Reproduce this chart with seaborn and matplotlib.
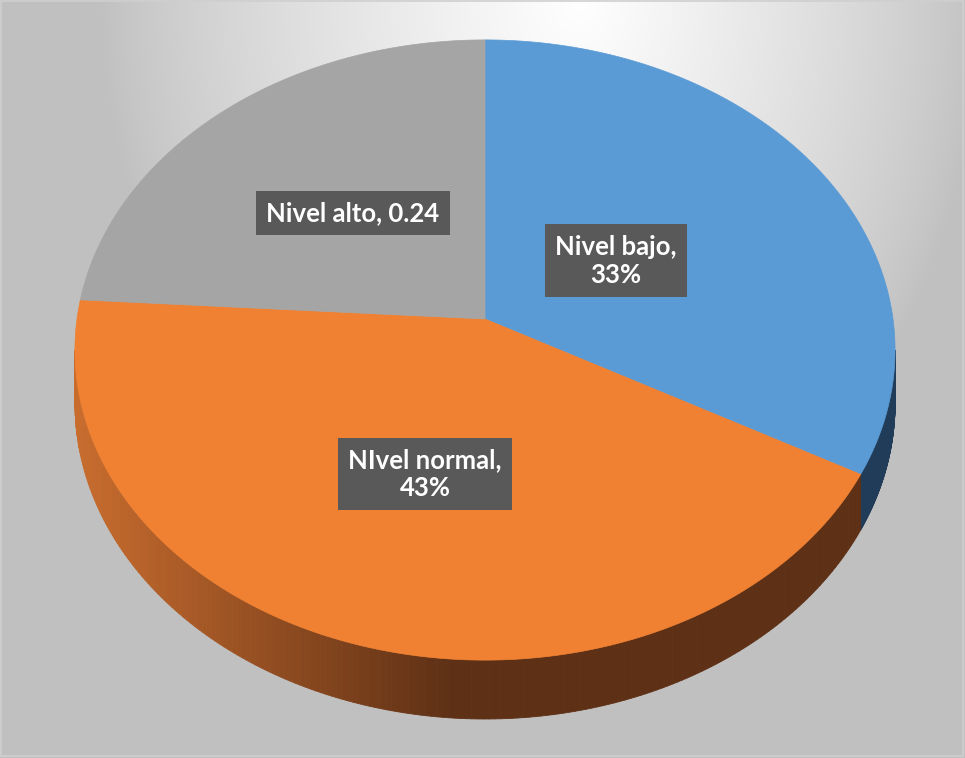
import numpy as np
import matplotlib
matplotlib.use("Agg")
import matplotlib.pyplot as plt
from matplotlib.patches import Polygon, Rectangle
from matplotlib.colors import to_rgb
import seaborn as sns

# ---- data ----
categories = ["Nivel bajo", "NIvel normal", "Nivel alto"]
shares = [0.33, 0.43, 0.24]
value_labels = ["33%", "43%", "0.24"]
label_joins = [",\n", ",\n", ", "]

# ---- styling ----
top_colors = ["#5b9bd5", "#f08132", "#a5a5a5"]
side_dark = ["#213c58", "#5e3015", "#555555"]
side_light = ["#2d5580", "#c86c2e", "#777777"]
label_radius = [0.38, 0.50, 0.49]

sns.set_theme(style="white")
plt.rcParams['font.family'] = ['Lato', 'DejaVu Sans']

W, H = 965, 758
fig = plt.figure(figsize=(W / 100, H / 100), dpi=100)
ax = fig.add_axes([0, 0, 1, 1])
ax.set_xlim(0, W)
ax.set_ylim(H, 0)
ax.axis('off')

# radial-ish background gradient (white near top centre, grey outside)
yy, xx = np.mgrid[0:H, 0:W]
gx, gy = 580, 0
rx = np.where(xx > gx, 400, 480)
d = np.hypot((xx - gx) / rx, (yy - gy) / 560)
t = np.clip(1 - d, 0, 1) ** 0.8
bg = (192 + 63 * t) / 255
ax.imshow(np.dstack([bg] * 3), extent=(0, W, H, 0), zorder=0, aspect='auto')

# tilted pie geometry (simple perspective)
cx, cy = 485, 319
A, B, a = 408, 307, 0.1
depth = 53


def project(theta, r=1.0):
    u = r * np.sin(theta)
    v = -r * np.cos(theta)
    f = 1 / (1 - a * v)
    return cx + A * u * f, cy + B * v * f, f


bounds = np.concatenate([[0], np.cumsum(shares)]) * 2 * np.pi
vis_lo, vis_hi = np.arccos(-a), 2 * np.pi - np.arccos(-a)

# side walls
for i in range(len(shares)):
    t0, t1 = max(bounds[i], vis_lo), min(bounds[i + 1], vis_hi)
    if t1 <= t0:
        continue
    th = np.linspace(t0, t1, 200)
    x, y, f = project(th)
    yb = y + depth * f
    dark, light = np.array(to_rgb(side_dark[i])), np.array(to_rgb(side_light[i]))
    for j in range(len(th) - 1):
        xm = 0.5 * (x[j] + x[j + 1])
        k = np.clip((xm - 80) / 370, 0, 1)
        c = light * (1 - k) + dark * k
        quad = [(x[j], y[j]), (x[j + 1], y[j + 1]), (x[j + 1], yb[j + 1]), (x[j], yb[j])]
        ax.add_patch(Polygon(quad, closed=True, facecolor=c, edgecolor=c, lw=0.6, zorder=2))

# top faces
for i in range(len(shares)):
    th = np.linspace(bounds[i], bounds[i + 1], 200)
    x, y, _ = project(th)
    pts = [(cx, cy)] + list(zip(x, y))
    ax.add_patch(Polygon(pts, closed=True, facecolor=top_colors[i],
                         edgecolor=top_colors[i], lw=0.5, zorder=3))

# data labels
for i in range(len(shares)):
    mid = 0.5 * (bounds[i] + bounds[i + 1])
    lx, ly, _ = project(mid, label_radius[i])
    ax.text(lx, ly, categories[i] + label_joins[i] + value_labels[i],
            ha='center', va='center', color='white', fontsize=18.5,
            fontweight='bold', linespacing=1.2, zorder=5,
            bbox=dict(boxstyle='square,pad=0.4', facecolor='#595959', edgecolor='none'))

ax.add_patch(Rectangle((1, 1), W - 3, H - 3, fill=False, edgecolor='#cfcfcf', lw=1.2, zorder=6))

fig.savefig("out.png", dpi=100)
